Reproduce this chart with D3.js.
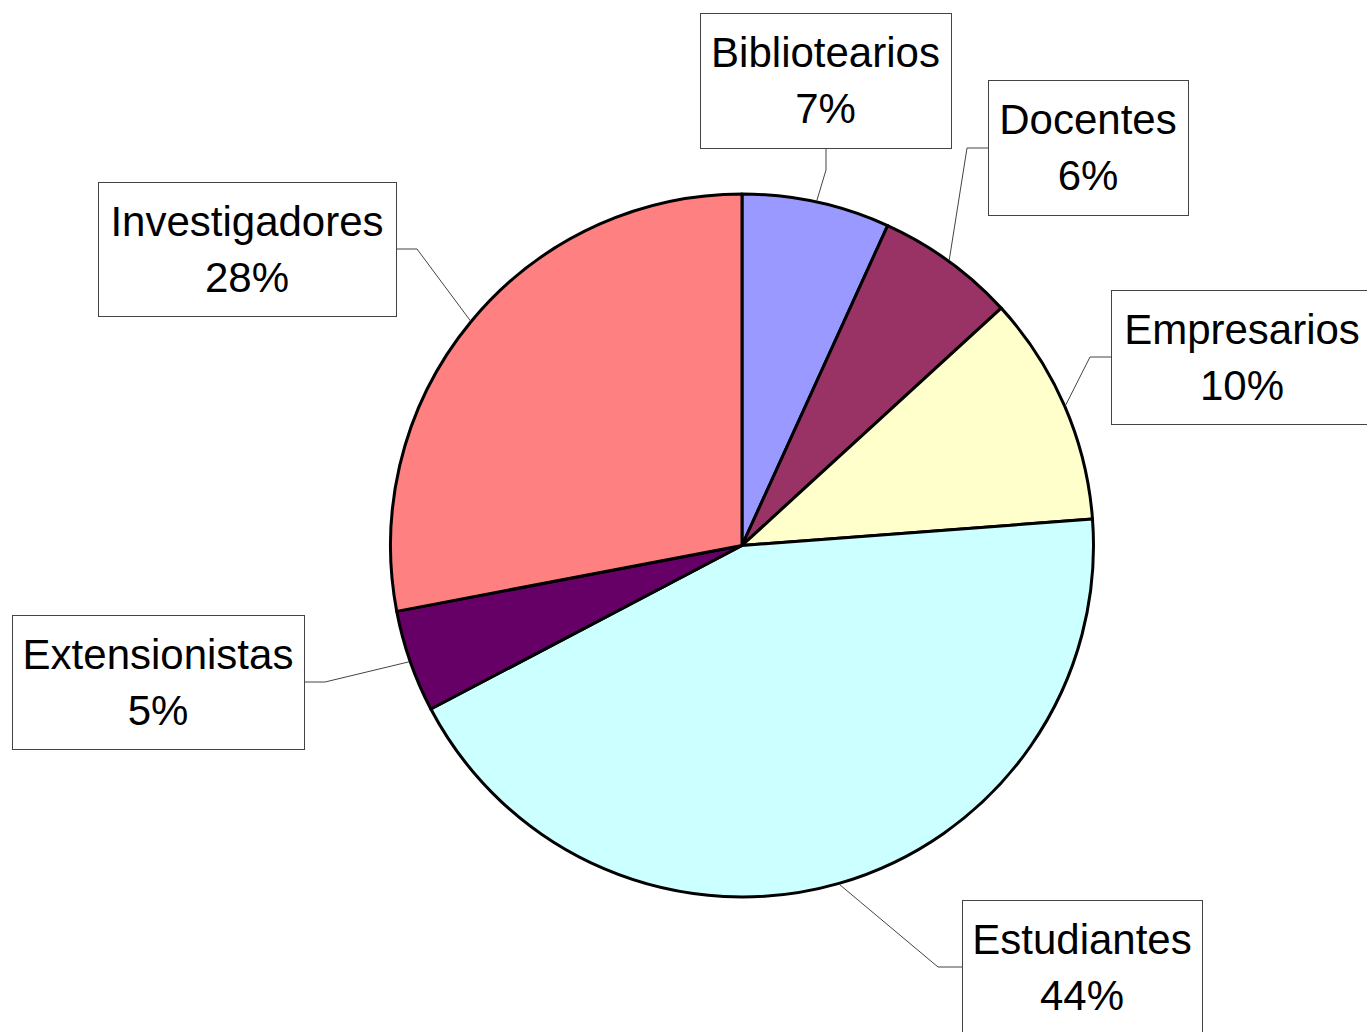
<!DOCTYPE html>
<html>
  <meta charset="utf-8" />
  <script src="https://cdn.jsdelivr.net/npm/d3@7"></script>
  <style>
    html, body {
      margin: 0;
      padding: 0;
      background-color: #fff;
    }
    .label-box {
      fill: #fff;
      stroke: #444;
      stroke-width: 1px;
      shape-rendering: crispEdges;
    }
    .label-text {
      font-family: 'Liberation Sans', Arial, sans-serif;
      font-size: 42px;
      fill: #000;
    }
    .leader {
      fill: none;
      stroke: #444;
      stroke-width: 1px;
    }
  </style>
  <body>
    <div id="chart"></div>
  </body>
  <script>
    // data (slice shares as drawn, and the printed percentages)
    var categories = ['Bibliotearios', 'Docentes', 'Empresarios', 'Estudiantes', 'Extensionistas', 'Investigadores'];
    var shares = [6.8, 6.4, 10.6, 43.5, 4.7, 28.0];
    var printedPct = ['7%', '6%', '10%', '44%', '5%', '28%'];
    var colors = ['#9999ff', '#993366', '#ffffcc', '#ccffff', '#660066', '#ff8080'];

    // label box placement: box rect, bend of leader line, and where the leader touches the box
    var boxes = [
      { x: 700, y: 13, w: 251, h: 135, bend: [826, 170], attach: [826, 148] },
      { x: 988, y: 80, w: 200, h: 135, bend: [967, 148], attach: [988, 148] },
      { x: 1111, y: 290, w: 262, h: 134, bend: [1090, 357], attach: [1111, 357] },
      { x: 962, y: 900, w: 240, h: 134, bend: [938, 967], attach: [962, 967] },
      { x: 12, y: 615, w: 292, h: 134, bend: [325, 682], attach: [304, 682] },
      { x: 98, y: 182, w: 298, h: 134, bend: [417, 249], attach: [396, 249] },
    ];

    var width = 1367,
      height = 1032,
      cx = 742,
      cy = 545.5,
      radius = 351.5;

    var svg = d3
      .select('#chart')
      .append('svg')
      .attr('width', width)
      .attr('height', height);

    var data = categories.map(function (c, i) {
      return { name: c, value: shares[i], pct: printedPct[i], color: colors[i], box: boxes[i] };
    });

    var pie = d3
      .pie()
      .sort(null)
      .value(function (d) {
        return d.value;
      });

    var arc = d3.arc().innerRadius(0).outerRadius(radius);

    var arcs = pie(data);

    var g = svg.append('g').attr('transform', 'translate(' + cx + ',' + cy + ')');

    g.selectAll('path.slice')
      .data(arcs)
      .enter()
      .append('path')
      .attr('class', 'slice')
      .attr('d', arc)
      .attr('fill', function (d) {
        return d.data.color;
      })
      .attr('stroke', '#000')
      .attr('stroke-width', 3)
      .attr('stroke-linejoin', 'round');

    // leader lines from the middle of each slice's rim to its label box
    svg
      .selectAll('path.leader')
      .data(arcs)
      .enter()
      .append('path')
      .attr('class', 'leader')
      .attr('d', function (d) {
        var mid = (d.startAngle + d.endAngle) / 2;
        var px = cx + (radius + 1) * Math.sin(mid);
        var py = cy - (radius + 1) * Math.cos(mid);
        var b = d.data.box;
        return d3.line()([[px, py], b.bend, b.attach]);
      });

    var labels = svg
      .selectAll('g.label')
      .data(data)
      .enter()
      .append('g')
      .attr('class', 'label');

    labels
      .append('rect')
      .attr('class', 'label-box')
      .attr('x', function (d) {
        return d.box.x + 0.5;
      })
      .attr('y', function (d) {
        return d.box.y + 0.5;
      })
      .attr('width', function (d) {
        return d.box.w;
      })
      .attr('height', function (d) {
        return d.box.h;
      });

    labels
      .append('text')
      .attr('class', 'label-text')
      .attr('text-anchor', 'middle')
      .attr('x', function (d) {
        return d.box.x + d.box.w / 2;
      })
      .attr('y', function (d) {
        return d.box.y + 53.5;
      })
      .text(function (d) {
        return d.name;
      });

    labels
      .append('text')
      .attr('class', 'label-text')
      .attr('text-anchor', 'middle')
      .attr('x', function (d) {
        return d.box.x + d.box.w / 2;
      })
      .attr('y', function (d) {
        return d.box.y + 110;
      })
      .text(function (d) {
        return d.pct;
      });
  </script>
</html>
